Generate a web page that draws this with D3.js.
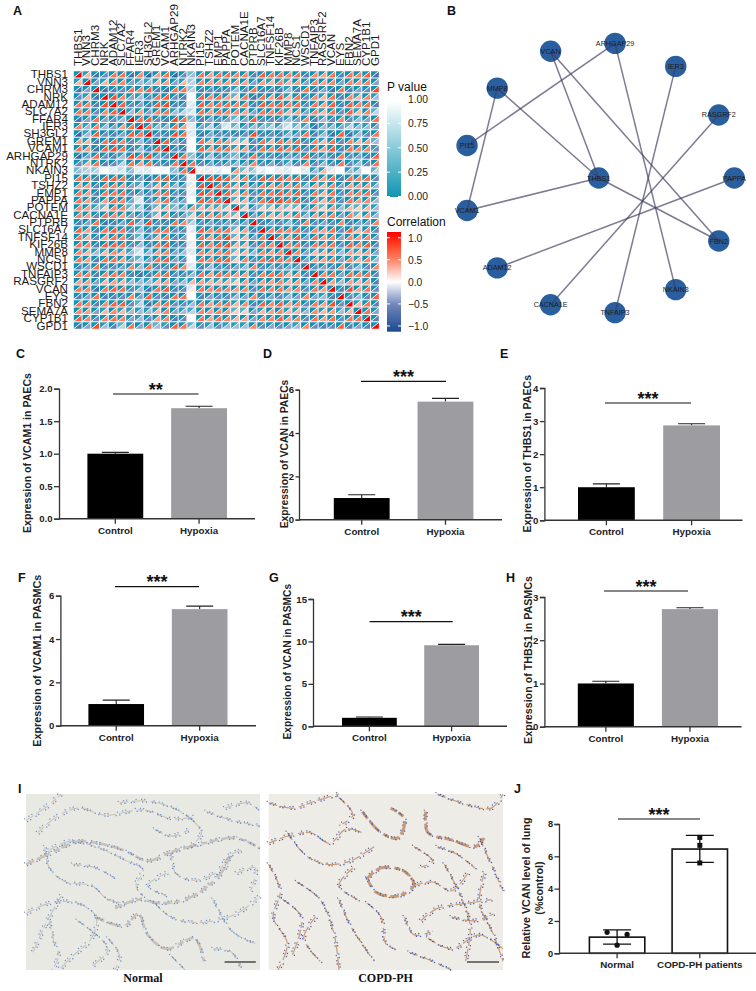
<!DOCTYPE html>
<html>
<head>
<meta charset="utf-8">
<script src="https://cdn.jsdelivr.net/npm/d3@7"></script>
<style>
html, body { margin: 0; padding: 0; background: #fff; }
text { font-family: "Liberation Sans", Arial, sans-serif; }
</style>
</head>
<body>
<div id="vis"></div>
<script>
var w = 756, h = 991; //size of the svg

//genes of the heatmap, same order on both axes
var genes = ["THBS1","VNN3","CHRM3","NRK","ADAM12","SLC7A2","FFAR4","IER3","SH3GL2","GREM1","VCAM1","ARHGAP29","NTRK2","NKAIN3","PI15","TSHZ2","EMP1","PAPPA","POTEM","CACNA1E","PTPRB","SLC16A7","TNFSF14","KIF26B","MMP8","NCS1","WSCD1","TNFAIP3","RASGRF2","VCAN","EYS","FBN2","SEMA7A","CYP1B1","GPD1"];

//lower triangle of the correlation matrix, in tenths, read by eye
var corrRows = [
[10],
[3,10],
[-7,-4,10],
[-5,3,-7,10],
[6,5,-6,8,10],
[6,5,-5,5,7,10],
[-7,-4,6,-4,-5,-3,10],
[5,-3,5,-3,-4,4,6,10],
[-8,-3,7,-5,-6,-4,7,6,10],
[4,3,-6,6,7,5,-5,-3,-5,10],
[6,4,-7,7,8,6,-6,-3,-6,7,10],
[-8,-4,6,-5,-6,-3,8,6,8,-4,-5,10],
[-5,3,6,-6,-5,-2,6,4,6,-5,-6,6,10],
[-3,-2,-2,0,-1,-1,-3,-1,-1,0,0,-3,6,10],
[6,5,-6,7,7,6,-6,-4,-7,6,7,-6,-5,1,10],
[4,4,-5,5,5,4,-4,-2,-4,3,4,-3,-4,1,8,10],
[6,4,-6,6,6,6,-5,-4,-5,5,6,-5,-5,-1,8,6,10],
[6,4,-5,4,6,5,-4,-1,-5,4,6,-4,-4,0,7,6,7,10],
[5,4,-3,2,5,5,-2,-2,-6,2,3,-3,-3,4,3,3,3,2,10],
[5,4,-5,6,5,4,-4,-4,-5,2,4,-5,-4,2,5,4,5,3,2,10],
[-6,-4,6,-7,-6,-4,7,-3,8,-5,-6,6,5,-2,-5,-4,-5,-4,-4,-4,10],
[7,4,-6,6,7,6,-5,-3,-6,6,6,-5,-5,-1,7,5,6,6,2,4,-6,10],
[6,3,-5,4,6,5,-5,-2,-5,3,5,-5,-4,0,6,4,6,8,2,3,-4,5,10],
[6,5,-6,7,7,6,-5,-3,-6,6,7,-6,-5,1,7,5,7,8,3,3,-5,6,5,10],
[5,3,-3,3,5,3,-3,-1,-3,4,5,-4,-3,-1,5,4,5,6,2,3,-3,5,4,5,10],
[6,4,-6,6,6,4,-4,-2,-4,6,7,-4,-5,0,6,5,7,7,2,5,-5,6,7,6,5,10],
[-6,-4,6,-5,-5,-4,5,-3,6,-5,-5,7,5,-1,-6,-3,-5,-5,-4,-3,5,-5,-4,-5,-4,-4,10],
[5,5,-6,5,6,5,-6,-7,-6,5,6,-5,-5,-3,6,4,6,5,4,4,-5,5,6,6,3,4,-5,10],
[4,4,-4,3,4,3,-3,-3,-3,3,4,-4,-3,3,4,3,3,3,2,4,-4,4,4,5,3,4,-4,5,10],
[6,5,-7,6,7,6,-5,-3,-7,6,7,-6,-5,1,6,5,6,5,4,5,-5,6,5,6,4,5,-5,6,4,10],
[-6,-4,6,-6,-6,-5,5,-4,7,-5,-6,6,6,0,-6,-4,-5,-5,-3,-4,5,-5,-4,-5,-3,-4,5,-4,-3,-6,10],
[6,5,-6,5,7,7,-5,-2,-7,5,6,-5,-5,-3,6,4,5,6,3,5,-6,7,5,7,4,5,-5,6,4,8,-5,10],
[5,4,-4,3,5,3,-3,-3,-3,3,5,-4,-3,-2,5,4,5,4,2,2,-4,3,4,5,3,3,-3,5,3,4,-3,3,10],
[7,5,-5,5,6,5,-4,-3,-5,4,5,-6,-5,0,6,4,6,5,3,4,-4,5,5,7,4,5,-5,6,4,6,-5,6,6,10],
[-7,-4,8,-3,-6,-2,6,-4,6,-3,-5,7,6,-2,-5,-3,-5,-3,-3,-3,5,-5,-4,-5,-4,-3,5,-5,-6,-5,7,-6,-4,-6,10]
];

//lower triangle of the p value matrix, read by eye
var pRows = [
[0],
[.1,0],
[0,0,0],
[0,.1,0,0],
[0,0,0,0,0],
[0,0,0,0,0,0],
[0,0,0,0,0,.1,0],
[0,.1,0,.1,0,0,0,0],
[0,.15,0,0,0,0,0,0,0],
[0,.1,0,0,0,0,0,.1,0,0],
[0,0,0,0,0,0,0,.1,0,0,0],
[0,0,0,0,0,.1,0,0,0,0,0,0],
[0,.1,0,0,0,.2,0,0,0,0,0,0,0],
[.4,.55,.5,.95,.85,.7,.35,.85,.8,1,.95,.4,.05,0],
[0,0,0,0,0,0,0,0,0,0,0,0,0,.9,0],
[0,0,0,0,0,0,0,.2,0,.1,0,.1,0,.85,0,0],
[0,0,0,0,0,0,0,0,0,0,0,0,0,.9,0,0,0],
[0,0,0,0,0,0,0,.75,0,0,0,0,0,1,0,0,0,0],
[0,0,.1,.3,0,0,.3,.3,0,.3,.1,.3,.1,0,.2,.1,.15,.25,0],
[0,0,0,0,0,0,0,0,0,.3,0,0,0,.35,0,0,0,.1,.3,0],
[0,0,0,0,0,0,0,.1,0,0,0,0,0,.4,0,0,0,0,0,0,0],
[0,0,0,0,0,0,0,.1,0,0,0,0,0,.9,0,0,0,0,.3,0,0,0],
[0,.1,0,0,0,0,0,.3,0,.1,0,0,0,1,0,0,0,0,.3,.1,0,0,0],
[0,0,0,0,0,0,0,.1,0,0,0,0,0,.85,0,0,0,0,.1,.1,0,0,0,0],
[0,.1,.1,.1,0,.1,.1,.7,.1,0,0,0,.1,.8,0,0,0,0,.3,.1,.1,0,0,0,0],
[0,0,0,0,0,0,0,.3,0,0,0,0,0,1,0,0,0,0,.3,0,0,0,0,0,0,0],
[0,0,0,0,0,0,0,.1,0,0,0,0,0,.8,0,.1,0,0,0,.1,0,0,0,0,0,0,0],
[0,0,0,0,0,0,0,0,0,0,0,0,0,.1,0,0,0,0,0,0,0,0,0,0,.1,0,0,0],
[0,0,0,.1,0,.1,.1,.1,.1,.1,0,0,.1,.1,0,.1,.1,.1,.3,0,0,0,0,0,.1,0,0,0,0],
[0,0,0,0,0,0,0,.1,0,0,0,0,0,.8,0,0,0,0,0,0,0,0,0,0,0,0,0,0,0,0],
[0,0,0,0,0,0,0,0,0,0,0,0,0,1,0,0,0,0,.1,0,0,0,0,0,.1,0,0,0,.1,0,0],
[0,0,0,0,0,0,0,.3,0,0,0,0,0,.1,0,0,0,0,.1,0,0,0,0,0,0,0,0,0,0,0,0,0],
[0,0,0,.1,0,.1,.1,.1,.1,.1,0,0,.1,.2,0,0,0,0,.3,.3,0,.1,0,0,.1,.1,.1,0,.1,0,.1,.1,0],
[0,0,0,0,0,0,0,.1,0,0,0,0,0,1,0,0,0,0,.1,0,0,0,0,0,0,0,0,0,0,0,0,0,0,0],
[0,0,0,.1,0,.3,0,0,0,.3,.1,0,0,.3,0,.1,0,.1,.1,.1,0,0,0,0,0,.1,0,0,0,0,0,0,0,0,0]
];

//network: ring of genes counter clockwise from the right, THBS1 in the middle
var ringGenes = ["PAPPA","RASGRF2","IER3","ARHGAP29","VCAN","MMP8","PI15","VCAM1","ADAM12","CACNA1E","TNFAIP3","NKAIN3","FBN2"];
var hubGene = "THBS1";
var edges = [["ARHGAP29","PI15"],["ARHGAP29","NKAIN3"],["VCAN","THBS1"],["VCAN","FBN2"],["MMP8","THBS1"],["MMP8","VCAM1"],["VCAM1","THBS1"],["THBS1","FBN2"],["IER3","TNFAIP3"],["RASGRF2","CACNA1E"],["PAPPA","ADAM12"]];

//bar panels
var groups = ["Control","Hypoxia"];
var panelLetters = ["C","D","E","F","G","H"];
var yLabels = ["Expression of VCAM1 in PAECs","Expression of VCAN in PAECs","Expression of THBS1 in PAECs","Expression of VCAM1 in PASMCs","Expression of VCAN in PASMCs","Expression of THBS1 in PASMCs"];
var controlMeans = [1,1,1,1,1,1];
var controlTops = [1.02,1.15,1.1,1.18,1.1,1.05];
var hypoxiaMeans = [1.7,5.45,2.87,5.38,9.55,2.72];
var hypoxiaTops = [1.73,5.6,2.92,5.52,9.65,2.75];
var yMax = [2,6,4,6,15,3];
var yTicks = [[0,0.5,1,1.5,2],[0,2,4,6],[0,1,2,3,4],[0,2,4,6],[0,5,10,15],[0,1,2,3]];
var yFormats = [".1f","d","d","d","d","d"];
var stars = ["**","***","***","***","***","***"];

//panel J
var jGroups = ["Normal","COPD-PH patients"];
var jMeans = [1,6.45];
var jLow = [0.57,5.63];
var jHigh = [1.45,7.3];
var jPoints = [[1.3,1.17,0.5],[7.17,6.68,5.59]];
var jTicks = [0,2,4,6,8];

//tissue strands of the two micrographs, percent of the image box
var normalStrands = [
[[5,22],[12,14],[22,8],[34,12],[50,9],[62,14],[72,13]],
[[40,5],[52,4],[66,10],[75,22],[70,30]],
[[77,10],[88,15],[100,18]],
[[0,40],[10,34],[22,27],[31,28],[42,32],[52,38],[62,33],[76,28],[90,25],[100,31]],
[[10,32],[18,27],[30,30],[43,38],[50,43],[47,52],[50,58]],
[[8,30],[10,42],[17,50],[28,52],[35,60],[42,62]],
[[62,33],[64,45],[72,49],[82,44],[87,35],[92,32]],
[[87,35],[85,42],[78,52],[68,60],[57,62],[48,60],[38,65]],
[[0,68],[10,62],[22,62],[30,70],[28,82],[20,92],[14,100]],
[[30,70],[42,75],[48,68],[52,80],[60,88],[72,82],[76,95]],
[[55,62],[62,70],[75,73],[90,68],[100,58]],
[[10,72],[12,84],[14,92],[11,100]],
[[35,82],[40,92],[38,100]],
[[80,88],[88,90],[92,100]],
[[0,15],[8,8],[15,0]],
[[20,40],[30,42],[38,48]],
[[80,60],[88,78],[98,85]],
[[55,20],[62,24],[70,20]],
[[15,58],[8,75],[3,90]],
[[60,45],[52,52],[60,58]],
[[85,8],[95,5],[100,10]],
[[90,45],[98,42],[96,55]],
[[62,92],[68,100]],
[[22,72],[35,88],[28,98]]
];
var copdStrands = [
[[0,5],[10,8],[20,4],[30,0]],
[[0,28],[8,24],[18,22],[26,28],[33,20],[40,22]],
[[40,10],[48,22],[55,25],[58,14],[52,8]],
[[67,10],[68,22],[78,26],[88,30],[92,25]],
[[72,0],[82,5],[95,8],[100,0]],
[[90,25],[95,40],[100,55]],
[[0,40],[5,55],[2,70],[8,85],[4,100]],
[[12,50],[22,60],[28,80],[30,100]],
[[30,60],[35,75],[45,95]],
[[42,48],[48,42],[58,44],[62,52],[55,58],[46,56],[42,48]],
[[62,52],[70,50],[78,55],[85,45]],
[[42,62],[48,70],[50,85],[54,88]],
[[65,72],[72,65],[85,62],[95,60]],
[[68,82],[78,88],[90,80],[100,88]],
[[75,40],[82,58],[86,75],[84,95]],
[[92,45],[90,62],[96,80],[100,95]],
[[8,22],[16,35],[25,40],[35,38],[45,30]],
[[60,90],[70,95],[78,100]],
[[20,70],[15,82],[22,95]],
[[30,2],[36,12],[30,18]],
[[62,30],[70,38],[64,42]],
[[78,70],[88,72],[96,68]],
[[6,60],[14,70],[10,92]],
[[36,42],[30,52],[38,60]],
[[72,30],[80,34],[88,42]],
[[58,70],[62,80],[70,78]]
];

var svg = d3.select("#vis").append("svg")
    .attr("width", w)
    .attr("height", h)
    .style("display", "block");

svg.append("rect").attr("width", w).attr("height", h).attr("fill", "#fff");

var defs = svg.append("defs");

//panel letters
function letter(t, x, y) {
    svg.append("text").attr("x", x).attr("y", y)
        .attr("font-size", 12.5).attr("font-weight", "bold").attr("fill", "#111")
        .text(t);
}

// ---- A: heatmap ----
var pColor = d3.scaleLinear().domain([0, 1]).range(["#0f95b2", "#ffffff"]);
var rColor = d3.scaleLinear().domain([-1, -0.5, 0, 0.5, 0.8, 1])
    .range(["#1a4a90", "#7488bd", "#ffffff", "#ff8468", "#ff4a2a", "#ff0000"]);

var xCell = d3.scaleBand().domain(genes).range([73.3, 379.3]);
var yCell = d3.scaleBand().domain(genes).range([70.7, 329.2]);

function lookup(rows, i, j) {
    return i >= j ? rows[i][j] : rows[j][i];
}

var heat = svg.append("g");
genes.forEach(function(rowGene, i) {
    genes.forEach(function(colGene, j) {
        var x0 = xCell(colGene) + 0.5, x1 = xCell(colGene) + xCell.bandwidth() - 0.5;
        var y0 = yCell(rowGene) + 0.5, y1 = yCell(rowGene) + yCell.bandwidth() - 0.5;
        heat.append("polygon")
            .attr("points", [[x0, y0], [x1, y0], [x0, y1]].join(" "))
            .attr("fill", pColor(lookup(pRows, i, j)));
        heat.append("polygon")
            .attr("points", [[x1, y0], [x1, y1], [x0, y1]].join(" "))
            .attr("fill", rColor(lookup(corrRows, i, j) / 10));
        heat.append("line")
            .attr("x1", x0).attr("y1", y1).attr("x2", x1).attr("y2", y0)
            .attr("stroke", "#fff").attr("stroke-width", 0.9);
    });
});

svg.append("g").selectAll("text").data(genes).enter().append("text")
    .attr("x", 68)
    .attr("y", function(d) { return yCell(d) + yCell.bandwidth() / 2 + 4; })
    .attr("text-anchor", "end").attr("font-size", 11.6).attr("fill", "#1a1a1a")
    .text(function(d) { return d; });

svg.append("g").selectAll("text").data(genes).enter().append("text")
    .attr("transform", function(d) {
        return "translate(" + (xCell(d) + xCell.bandwidth() / 2 + 4) + ",66) rotate(-90)";
    })
    .attr("font-size", 11.6).attr("fill", "#1a1a1a")
    .text(function(d) { return d; });

//legends of the heatmap
function legend(id, title, titleY, scale, color, stops, ticks, fmt, top, bottom) {
    var g = svg.append("g");
    var grad = defs.append("linearGradient").attr("id", id)
        .attr("x1", 0).attr("y1", 1).attr("x2", 0).attr("y2", 0);
    var dom = scale.domain();
    stops.forEach(function(s) {
        grad.append("stop")
            .attr("offset", (s - dom[0]) / (dom[1] - dom[0]))
            .attr("stop-color", color(Math.max(-1, Math.min(1, s))));
    });
    g.append("text").attr("x", 387).attr("y", titleY).attr("font-size", 12).attr("fill", "#111").text(title);
    g.append("rect").attr("x", 387).attr("y", top).attr("width", 14).attr("height", bottom - top)
        .attr("fill", "url(#" + id + ")");
    ticks.forEach(function(t) {
        g.append("line").attr("x1", 387).attr("x2", 390).attr("y1", scale(t)).attr("y2", scale(t)).attr("stroke", "#fff");
        g.append("line").attr("x1", 398).attr("x2", 401).attr("y1", scale(t)).attr("y2", scale(t)).attr("stroke", "#fff");
        g.append("text").attr("x", 408).attr("y", scale(t) + 3.8)
            .attr("font-size", 10.3).attr("fill", "#222").text(d3.format(fmt)(t));
    });
}

var pScale = d3.scaleLinear().domain([0, 1]).range([196.5, 99]);
var rScale = d3.scaleLinear().domain([-1.13, 1.13]).range([331.7, 232]);
legend("gradP", "P value", 91, pScale, pColor, [0, 1], [0, 0.25, 0.5, 0.75, 1], ".2f", 101, 197);
legend("gradR", "Correlation", 226, rScale, rColor, [-1.13, -0.5, 0, 0.5, 0.8, 1.13], [-1, -0.5, 0, 0.5, 1], ".1f", 232, 331.7);

// ---- B: network ----
var angle = d3.scaleLinear().domain([0, ringGenes.length]).range([0, 2 * Math.PI]);
var radius = d3.scaleLinear().domain([0, 1]).range([0, 135.6]);
var nodes = {};
ringGenes.forEach(function(g, i) {
    nodes[g] = { name: g, x: 598.7 + radius(1) * Math.cos(angle(i)), y: 178 - radius(1) * Math.sin(angle(i)) };
});
nodes[hubGene] = { name: hubGene, x: 598.7 + radius(0), y: 178 };
var nodeList = Object.keys(nodes).map(function(k) { return nodes[k]; });

svg.append("g").selectAll("circle").data(nodeList).enter().append("circle")
    .attr("cx", function(d) { return d.x; })
    .attr("cy", function(d) { return d.y; })
    .attr("r", 10.7)
    .attr("fill", "#2a5f9f");

svg.append("g").selectAll("line").data(edges).enter().append("line")
    .attr("x1", function(d) { return nodes[d[0]].x; })
    .attr("y1", function(d) { return nodes[d[0]].y; })
    .attr("x2", function(d) { return nodes[d[1]].x; })
    .attr("y2", function(d) { return nodes[d[1]].y; })
    .attr("stroke", "#3e3c5e").attr("stroke-opacity", 0.68).attr("stroke-width", 1.5);

svg.append("g").selectAll("text").data(nodeList).enter().append("text")
    .attr("x", function(d) { return d.x; })
    .attr("y", function(d) { return d.y + 2.5; })
    .attr("text-anchor", "middle").attr("font-size", 7.2).attr("fill", "#1c1c1c")
    .text(function(d) { return d.name; });

// ---- C to H: bar panels ----
//layout: axis x, axis right end, y of top tick, y of zero, bar left, bar right, sig line, label x, label centre, tick size, letter
var layouts = [
    { ax: 59, end: 255, top: 388.7, zero: 518.7, b0: 87.4, b1: 227, s0: 113, s1: 198.5, sy: 394, lx: 31, ly: 453, fs: 10.6, tk: 5, lt: [16, 358] },
    { ax: 299, end: 502, top: 389.7, zero: 519.7, b0: 333.8, b1: 473.4, s0: 361, s1: 446, sy: 381.3, lx: 287.5, ly: 454, fs: 10.3, tk: 3.5, lt: [263, 358] },
    { ax: 544.4, end: 742.5, top: 388, zero: 520.3, b0: 578, b1: 720, s0: 605, s1: 691, sy: 403, lx: 531, ly: 453.7, fs: 10.6, tk: 4.5, lt: [500, 358] },
    { ax: 60.4, end: 256, top: 595.7, zero: 725.7, b0: 88.4, b1: 227.5, s0: 115, s1: 199, sy: 586.7, lx: 40.5, ly: 660.7, fs: 10.8, tk: 4.5, lt: [18, 582] },
    { ax: 313, end: 507, top: 599, zero: 726.3, b0: 342, b1: 479, s0: 369.6, s1: 452.7, sy: 621.7, lx: 290.5, ly: 661.7, fs: 10.2, tk: 4.5, lt: [269, 582] },
    { ax: 544.4, end: 741.5, top: 597, zero: 726.7, b0: 577.8, b1: 718, s0: 604, s1: 688, sy: 591, lx: 532, ly: 660, fs: 10.7, tk: 4.5, lt: [506, 582] }
];

function yAxisDraw(g, y, axisX, ticks, fmt, fs, tk) {
    var ax = g.append("g").attr("transform", "translate(" + axisX + ",0)")
        .call(d3.axisLeft(y).tickValues(ticks).tickFormat(d3.format(fmt)).tickSizeOuter(0).tickSize(tk).tickPadding(1.5));
    ax.selectAll("path,line").attr("stroke", "#333").attr("stroke-width", 1.3);
    ax.selectAll("text").attr("font-size", fs).attr("font-weight", "bold").attr("fill", "#222")
        .style("font-family", "'Liberation Sans', Arial, sans-serif");
}

function xAxisDraw(g, x, zero, ax0, end, fs) {
    var ax = g.append("g").attr("transform", "translate(0," + zero + ")")
        .call(d3.axisBottom(x).tickSize(5).tickPadding(3));
    ax.select("path").remove();
    ax.selectAll("line").attr("stroke", "#333").attr("stroke-width", 1.3);
    ax.selectAll("text").attr("font-size", fs).attr("font-weight", "bold").attr("fill", "#222")
        .style("font-family", "'Liberation Sans', Arial, sans-serif");
    g.append("line").attr("x1", ax0).attr("x2", end).attr("y1", zero).attr("y2", zero)
        .attr("stroke", "#333").attr("stroke-width", 1.5);
}

function sigBar(g, x0, x1, y, label) {
    g.append("line").attr("x1", x0).attr("x2", x1).attr("y1", y).attr("y2", y)
        .attr("stroke", "#111").attr("stroke-width", 1.2);
    g.append("text").attr("x", (x0 + x1) / 2).attr("y", y + 1.5)
        .attr("text-anchor", "middle").attr("font-size", 18).attr("font-weight", "bold").attr("fill", "#111")
        .text(label);
}

layouts.forEach(function(l, i) {
    var g = svg.append("g");
    var y = d3.scaleLinear().domain([0, yMax[i]]).range([l.zero, l.top]);
    var x = d3.scaleBand().domain(groups).range([l.b0, l.b1]).paddingInner(1 / 3);
    var means = [controlMeans[i], hypoxiaMeans[i]];
    var tops = [controlTops[i], hypoxiaTops[i]];

    //error bars first, bars on top of them
    g.selectAll(".err").data(groups).enter().append("path")
        .attr("d", function(d, k) {
            var c = x(d) + x.bandwidth() / 2;
            return "M" + (c - 13.5) + "," + y(tops[k]) + "H" + (c + 13.5) + "M" + c + "," + y(tops[k]) + "V" + y(means[k]);
        })
        .attr("stroke", "#222").attr("stroke-width", 1.1).attr("fill", "none");

    g.selectAll(".bar").data(groups).enter().append("rect")
        .attr("x", function(d) { return x(d); })
        .attr("y", function(d, k) { return y(means[k]); })
        .attr("width", x.bandwidth())
        .attr("height", function(d, k) { return l.zero - y(means[k]); })
        .attr("fill", function(d, k) { return k == 0 ? "#000" : "#9d9da1"; });

    yAxisDraw(g, y, l.ax, yTicks[i], yFormats[i], 9.6, l.tk);
    xAxisDraw(g, x, l.zero, l.ax, l.end, 9.8);
    sigBar(g, l.s0, l.s1, l.sy, stars[i]);

    g.append("text")
        .attr("transform", "translate(" + l.lx + "," + l.ly + ") rotate(-90)")
        .attr("text-anchor", "middle").attr("font-size", l.fs).attr("font-weight", "bold").attr("fill", "#222")
        .text(yLabels[i]);
    letter(panelLetters[i], l.lt[0], l.lt[1]);
});

// ---- I: micrographs, redrawn from the strands ----
defs.append("filter").attr("id", "soft").append("feGaussianBlur").attr("stdDeviation", 0.45);

function micrograph(x0, x1, strands, bg, under, underOp, underW, dots, thick) {
    var y0 = 794, y1 = 970;
    var xs = d3.scaleLinear().domain([0, 100]).range([x0, x1]);
    var ys = d3.scaleLinear().domain([0, 100]).range([y0, y1]);
    var line = d3.line().x(function(d) { return xs(d[0]); }).y(function(d) { return ys(d[1]); }).curve(d3.curveCatmullRom);
    var g = svg.append("g");
    g.append("rect").attr("x", x0).attr("y", y0).attr("width", x1 - x0).attr("height", y1 - y0).attr("fill", bg);
    var t = g.append("g").attr("filter", "url(#soft)");
    t.selectAll(".u").data(strands).enter().append("path")
        .attr("d", line).attr("fill", "none").attr("stroke", under)
        .attr("stroke-opacity", underOp)
        .attr("stroke-dasharray", "9 3 14 5 6 2")
        .attr("stroke-width", function(d, i) { return thick.indexOf(i) >= 0 ? underW * 2.4 : underW; });
    //nuclei scattered along both sides of a strand
    t.selectAll(".d").data(strands).enter().append("path")
        .attr("d", line).attr("fill", "none").attr("stroke", dots)
        .attr("transform", "translate(1.6,1.2)")
        .attr("stroke-width", 1.4).attr("stroke-linecap", "round")
        .attr("stroke-dasharray", "0.1 3.7 0.1 6.3 0.1 2.9 0.1 8.1");
    t.selectAll(".e").data(strands).enter().append("path")
        .attr("d", line).attr("fill", "none").attr("stroke", dots)
        .attr("transform", "translate(-1.4,-1.5)")
        .attr("stroke-width", 1.3).attr("stroke-linecap", "round")
        .attr("stroke-dasharray", "0.1 5.2 0.1 3.1 0.1 9.4");
}

micrograph(26, 260, normalStrands, "#e9e9e4", "#b3a291", 0.55, 1.1, "#6c8fcc", [3, 7, 9]);
micrograph(268.6, 503, copdStrands, "#edece7", "#b9784a", 0.7, 1.2, "#4f5ca6", [2, 3, 9]);

svg.selectAll(".scalebar").data([[224.6, 256], [467, 499]]).enter().append("line")
    .attr("x1", function(d) { return d[0]; }).attr("x2", function(d) { return d[1]; })
    .attr("y1", 962).attr("y2", 962).attr("stroke", "#222").attr("stroke-width", 1.2);

svg.selectAll(".imglabel").data([["Normal", 143], ["COPD-PH", 385.5]]).enter().append("text")
    .attr("x", function(d) { return d[1]; }).attr("y", 982)
    .attr("text-anchor", "middle").attr("font-size", 12).attr("font-weight", "bold")
    .style("font-family", "'Liberation Serif', serif").attr("fill", "#111")
    .text(function(d) { return d[0]; });

letter("I", 18, 793);
letter("J", 514, 793);

// ---- J ----
(function() {
    var g = svg.append("g");
    var zero = 953.3;
    var y = d3.scaleLinear().domain([0, 8]).range([zero, 824]);
    var x = d3.scaleBand().domain(jGroups).range([589.4, 727.5]).paddingInner(0.33);

    g.selectAll(".bar").data(jGroups).enter().append("rect")
        .attr("x", function(d) { return x(d); })
        .attr("y", function(d, k) { return y(jMeans[k]); })
        .attr("width", x.bandwidth())
        .attr("height", function(d, k) { return zero - y(jMeans[k]); })
        .attr("fill", "#fff").attr("stroke", "#111").attr("stroke-width", 1.6);

    g.selectAll(".err").data(jGroups).enter().append("path")
        .attr("d", function(d, k) {
            var c = x(d) + x.bandwidth() / 2;
            return "M" + (c - 14) + "," + y(jHigh[k]) + "H" + (c + 14) +
                "M" + (c - 14) + "," + y(jLow[k]) + "H" + (c + 14) +
                "M" + c + "," + y(jHigh[k]) + "V" + y(jLow[k]);
        })
        .attr("stroke", "#111").attr("stroke-width", 1.3).attr("fill", "none");

    //normal group spreads sideways, patients are a column of squares
    var offsets = [-10, 10, 0];
    jPoints[0].forEach(function(v, k) {
        g.append("circle").attr("cx", x(jGroups[0]) + x.bandwidth() / 2 + offsets[k]).attr("cy", y(v)).attr("r", 2.6).attr("fill", "#111");
    });
    jPoints[1].forEach(function(v) {
        g.append("rect").attr("x", x(jGroups[1]) + x.bandwidth() / 2 - 2.5).attr("y", y(v) - 2.5).attr("width", 5).attr("height", 5).attr("fill", "#111");
    });

    yAxisDraw(g, y, 559, jTicks, "d", 9.2, 4.5);
    xAxisDraw(g, x, zero, 559, 756, 9.8);
    sigBar(g, 618, 700, 819, "***");

    var lab = g.append("text").attr("text-anchor", "middle").attr("font-size", 10.8).attr("font-weight", "bold").attr("fill", "#222")
        .attr("transform", "translate(530,888) rotate(-90)");
    lab.append("tspan").attr("x", 0).attr("y", 0).text("Relative VCAN level of lung");
    lab.append("tspan").attr("x", 0).attr("y", 13).text("(%control)");
})();

letter("A", 13, 15);
letter("B", 447, 15);
</script>
</body>
</html>
